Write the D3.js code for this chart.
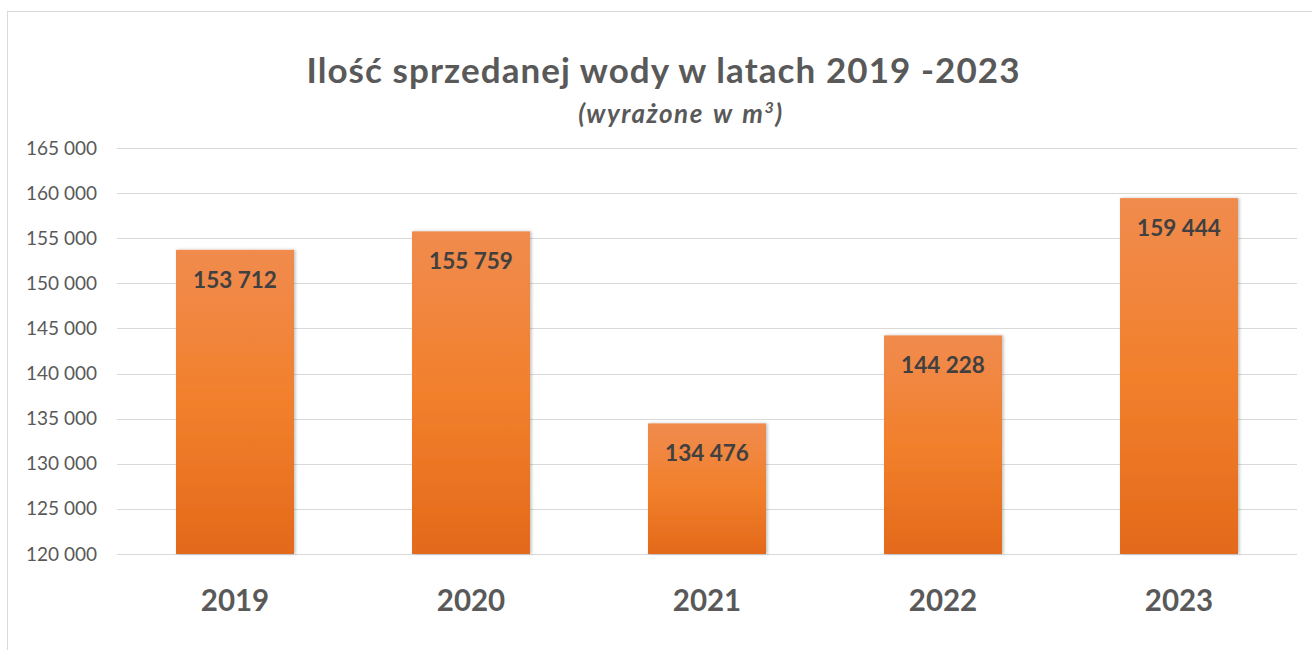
<!DOCTYPE html>
<html>
<head>
<meta charset="utf-8">
<script src="https://cdn.jsdelivr.net/npm/d3@7"></script>
<style>
  body { margin: 0; background: #fff; }
  svg { display: block; font-family: Lato, "Open Sans", sans-serif; }
</style>
</head>
<body>
<svg id="chart" width="1312" height="650"></svg>
<script>
// chart data
const years = ["2019", "2020", "2021", "2022", "2023"];
const volumes = [153712, 155759, 134476, 144228, 159444];
const yTicks = [120000, 125000, 130000, 135000, 140000, 145000, 150000, 155000, 160000, 165000];

const svg = d3.select("#chart");
const fmt = v => d3.format(",")(v).replace(/,/g, " ");

// outer frame
svg.append("rect")
  .attr("x", 7.5).attr("y", 11.5)
  .attr("width", 1320).attr("height", 700)
  .attr("fill", "none")
  .attr("stroke", "#d9d9d9");

const plot = { left: 117, right: 1297, top: 148, bottom: 554 };

const x = d3.scaleBand()
  .domain(years)
  .range([plot.left, plot.right])
  .paddingInner(0.5)
  .paddingOuter(0.25);

const y = d3.scaleLinear()
  .domain([120000, 165000])
  .range([plot.bottom, plot.top]);

// gradient + shadow for the bars
const defs = svg.append("defs");
const grad = defs.append("linearGradient")
  .attr("id", "barGrad")
  .attr("x1", 0).attr("y1", 0).attr("x2", 0).attr("y2", 1);
grad.append("stop").attr("offset", "0%").attr("stop-color", "#f08b4e");
grad.append("stop").attr("offset", "50%").attr("stop-color", "#f2802c");
grad.append("stop").attr("offset", "100%").attr("stop-color", "#e3691a");

const shadow = defs.append("filter").attr("id", "shadow")
  .attr("x", "-10%").attr("y", "-10%").attr("width", "120%").attr("height", "120%");
shadow.append("feDropShadow")
  .attr("dx", 1.5).attr("dy", 0).attr("stdDeviation", 1.5)
  .attr("flood-color", "#000").attr("flood-opacity", 0.25);

// gridlines
svg.append("g")
  .selectAll("line")
  .data(yTicks)
  .join("line")
  .attr("x1", plot.left).attr("x2", plot.right)
  .attr("y1", d => Math.round(y(d)) + 0.5)
  .attr("y2", d => Math.round(y(d)) + 0.5)
  .attr("stroke", "#d9d9d9")
  .attr("stroke-width", 1);

// y axis labels
const yAxis = svg.append("g")
  .attr("transform", `translate(${plot.left - 20},0)`)
  .call(d3.axisLeft(y).tickValues(yTicks).tickFormat(fmt).tickSize(0).tickPadding(0));
yAxis.select(".domain").remove();
yAxis.selectAll("text")
  .attr("fill", "#595959")
  .style("font-size", "19px")
  .style("font-family", "Lato, sans-serif");

const barData = years.map((yr, i) => ({ yr, v: volumes[i] }));

// bars
svg.append("g")
  .selectAll("rect")
  .data(barData)
  .join("rect")
  .attr("x", d => x(d.yr))
  .attr("y", d => y(d.v))
  .attr("width", x.bandwidth())
  .attr("height", d => y(120000) - y(d.v))
  .attr("fill", "url(#barGrad)")
  .attr("filter", "url(#shadow)");

// value labels inside the bars
svg.append("g")
  .selectAll("text")
  .data(barData)
  .join("text")
  .attr("x", d => x(d.yr) + x.bandwidth() / 2)
  .attr("y", d => y(d.v) + 38)
  .attr("text-anchor", "middle")
  .attr("fill", "#404040")
  .style("font-size", "22.5px")
  .style("font-weight", "bold")
  .text(d => fmt(d.v));

// x axis labels
const xAxis = svg.append("g")
  .attr("transform", `translate(0,${plot.bottom})`)
  .call(d3.axisBottom(x).tickSize(0));
xAxis.select(".domain").remove();
xAxis.selectAll("text")
  .attr("dy", null)
  .attr("y", 57)
  .attr("fill", "#595959")
  .style("font-size", "29.5px")
  .style("font-weight", "bold")
  .style("font-family", "Lato, sans-serif");

// title
svg.append("text")
  .attr("x", 663).attr("y", 83)
  .attr("text-anchor", "middle")
  .attr("fill", "#595959")
  .style("font-size", "35px")
  .style("font-weight", "bold")
  .attr("textLength", 713)
  .attr("lengthAdjust", "spacing")
  .text("Ilość sprzedanej wody w latach 2019 -2023");

const sub = svg.append("text")
  .attr("x", 681).attr("y", 123)
  .attr("text-anchor", "middle")
  .attr("fill", "#595959")
  .style("font-size", "26px")
  .style("font-style", "italic")
  .style("font-weight", "bold")
  .style("letter-spacing", "1.5px")
  .style("word-spacing", "2px");
sub.append("tspan").text("(wyrażone w m");
sub.append("tspan").attr("dy", -10).style("font-size", "16px").text("3");
sub.append("tspan").attr("dy", 10).text(")");
</script>
</body>
</html>
